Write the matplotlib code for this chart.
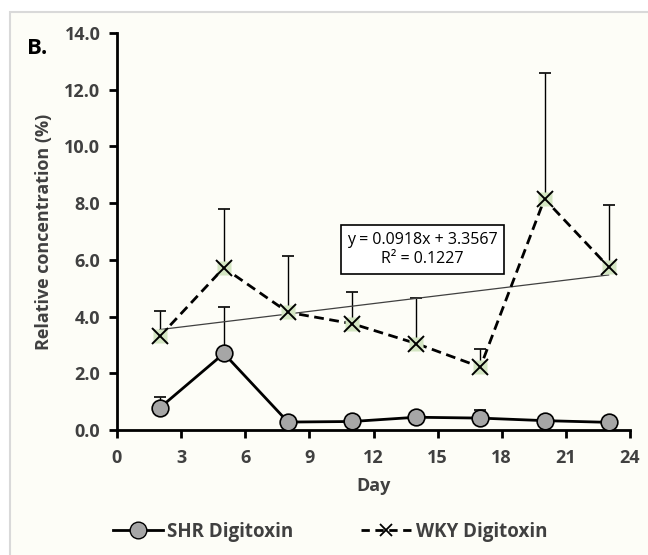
import matplotlib.pyplot as plt
from matplotlib.patches import Rectangle
from matplotlib.lines import Line2D
import numpy as np

# data
days = [2, 5, 8, 11, 14, 17, 20, 23]
shr = [0.78, 2.70, 0.28, 0.30, 0.45, 0.42, 0.33, 0.27]
shr_err = [0.37, 1.65, 0.05, 0.05, 0.05, 0.28, 0.05, 0.05]
wky = [3.30, 5.72, 4.15, 3.75, 3.05, 2.22, 8.15, 5.75]
wky_err = [0.88, 2.08, 2.00, 1.10, 1.60, 0.63, 4.43, 2.20]
slope, intercept = 0.0918, 3.3567
r2 = 0.1227

bg = '#fdfdf7'
txt = '#404040'
plt.rcParams['font.family'] = ['Open Sans', 'DejaVu Sans']

fig = plt.figure(figsize=(6.48, 5.55), dpi=100)
fig.patch.set_facecolor('white')
# light frame around the chart area
fig.patches.append(Rectangle((10 / 648, -0.01), 1.0, 1 - 12 / 555 + 0.01, transform=fig.transFigure,
                             facecolor=bg, edgecolor='#d9d9d9', linewidth=1.5, zorder=-10))

ax = fig.add_axes([117 / 648, 1 - 430 / 555, (630 - 117) / 648, (430 - 33) / 555])
ax.set_facecolor('none')
ax.set_zorder(2)

# error bars (upper only)
ax.errorbar(days, shr, yerr=[np.zeros(len(shr)), shr_err], fmt='none', ecolor='black',
            elinewidth=1, capsize=4, capthick=1.2, zorder=2)
ax.errorbar(days, wky, yerr=[np.zeros(len(wky)), wky_err], fmt='none', ecolor='black',
            elinewidth=1, capsize=4, capthick=1.2, zorder=2)

# trendline
xt = np.array([days[0], days[-1]])
ax.plot(xt, slope * xt + intercept, color='#404040', linewidth=0.9, zorder=3)

ax.plot(days, shr, color='black', linewidth=2, marker='o', markersize=12,
        markerfacecolor='#a6a6a6', markeredgecolor='black', markeredgewidth=1.2, zorder=4)
ax.plot(days, wky, color='black', linewidth=2, linestyle=(0, (3.5, 2)), zorder=4)
ax.plot(days, wky, linestyle='none', marker='s', markersize=10, markerfacecolor='#d4e6c3',
        markeredgecolor='none', zorder=5)
ax.plot(days, wky, linestyle='none', marker='x', markersize=11, markeredgecolor='black',
        markeredgewidth=1.4, zorder=6)

ax.text(14.3, 6.36, 'y = 0.0918x + 3.3567\nR² = {:.4f}'.format(r2), ha='center', va='center',
        fontsize=11.5, color='black', linespacing=1.3,
        bbox=dict(boxstyle='square,pad=0.4', facecolor='white', edgecolor='black', linewidth=1.2))

ax.set_xlim(0, 24)
ax.set_ylim(0, 14)
ax.set_xticks(range(0, 25, 3))
ax.set_yticks(np.arange(0, 14.1, 2))
ax.set_yticklabels(['{:.1f}'.format(v) for v in np.arange(0, 14.1, 2)])
for s in ['top', 'right']:
    ax.spines[s].set_visible(False)
for s in ['left', 'bottom']:
    ax.spines[s].set_linewidth(2)
ax.tick_params(direction='out', length=6, width=2, labelsize=13, labelcolor=txt)
ax.tick_params(axis='x', pad=8)
ax.tick_params(axis='y', pad=6)
for lab in ax.get_xticklabels() + ax.get_yticklabels():
    lab.set_fontweight('bold')

ax.set_xlabel('Day', fontsize=13, fontweight='bold', color=txt, labelpad=7)
ax.set_ylabel('Relative concentration (%)', fontsize=13, fontweight='bold', color=txt, labelpad=8)

fig.text(27 / 648, 1 - 48 / 555, 'B.', fontsize=16, fontweight='bold', color='black',
         va='center', ha='left')

h1 = Line2D([], [], color='black', linewidth=2, marker='o', markersize=12,
            markerfacecolor='#a6a6a6', markeredgecolor='black')
h2 = Line2D([], [], color='black', linewidth=2, linestyle=(0, (3, 2)), marker='x', markersize=9,
            markeredgecolor='black', markeredgewidth=1.3)
leg = fig.legend([h1, h2], ['SHR Digitoxin', 'WKY Digitoxin'], loc='center',
                 bbox_to_anchor=(330 / 648, 1 - 532 / 555), ncol=2, frameon=False,
                 fontsize=13.5, handlelength=2.7, columnspacing=3.6, handletextpad=0.22)
for t in leg.get_texts():
    t.set_fontweight('bold')
    t.set_color(txt)

fig.savefig('out.png', dpi=100, facecolor=fig.get_facecolor())
